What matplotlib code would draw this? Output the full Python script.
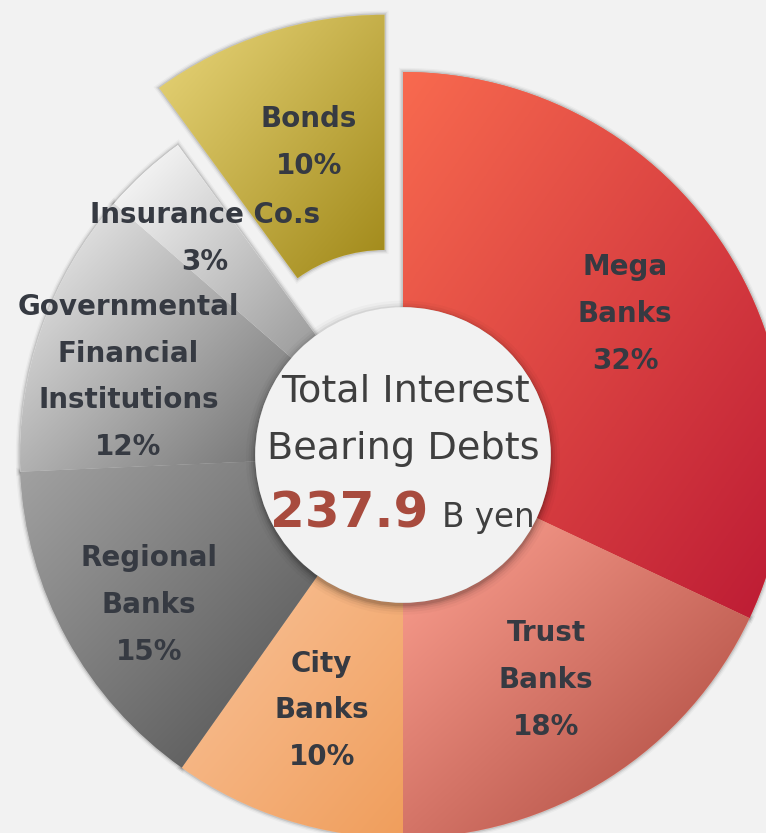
import numpy as np
import matplotlib
matplotlib.use("Agg")
import matplotlib.pyplot as plt
import matplotlib.patheffects as pe
from matplotlib.colors import LinearSegmentedColormap
from matplotlib.patches import Circle

# ---- data ----
categories = ["Mega\nBanks", "Trust\nBanks", "City\nBanks", "Regional\nBanks",
              "Governmental\nFinancial\nInstitutions", "Insurance Co.s", "Bonds"]
shares = [32.0, 18.0, 9.8, 14.5, 12.1, 3.6, 10.0]
pct_labels = ["32%", "18%", "10%", "15%", "12%", "3%", "10%"]
total_value = "237.9"
total_unit = "B yen"
title_line1 = "Total Interest"
title_line2 = "Bearing Debts"

# ---- styles ----
grad_start = ["#F86A4F", "#FFA393", "#F9C39A", "#A2A2A2", "#F4F4F4", "#FFFFFF", "#EAD77C"]
grad_end = ["#BC1A34", "#A8443A", "#F09E5C", "#505050", "#6E6E6E", "#9A9A9A", "#A08818"]
explode = [0, 0, 0, 0, 0, 0, 0.157]
label_r = [0.687, 0.697, 0.70, 0.77, 0.745, 0.767, 0.695]
label_dang = [0, 0, 0, 2.0, 3.4, 0, -1.5]
hole_r = 0.386
BG = "#F2F2F2"
TXT = "#363A42"

W, H = 766, 833
cx_px, cy_px, R_px = 403, 455, 383

fig = plt.figure(figsize=(W / 100, H / 100), dpi=100, facecolor=BG)
ax = fig.add_axes([0, 0, 1, 1])
ax.set_facecolor(BG)
ax.axis("off")

def px(x, y):
    return (x - cx_px) / R_px, (cy_px - y) / R_px

shadow_fx = [pe.Stroke(linewidth=6, foreground="k", alpha=0.03),
             pe.Stroke(linewidth=4, foreground="k", alpha=0.06),
             pe.Stroke(linewidth=2.2, foreground="k", alpha=0.10),
             pe.Normal()]

wedges, _ = ax.pie(shares, startangle=90, counterclock=False, radius=1.0,
                   explode=explode,
                   wedgeprops=dict(width=1 - hole_r, linewidth=0, edgecolor="none"),
                   colors=grad_start)

n = 300
gx, gy = np.meshgrid(np.linspace(0, 1, n), np.linspace(0, 1, n))
tgrid = (gx + gy) / 2.0
for i, w in enumerate(wedges):
    w.set_path_effects(shadow_fx)
    bb = w.get_path().get_extents()
    cmap = LinearSegmentedColormap.from_list(f"g{i}", [grad_start[i], grad_end[i]])
    im = ax.imshow(tgrid, extent=(bb.x0, bb.x1, bb.y0, bb.y1), origin="upper",
                   cmap=cmap, vmin=0, vmax=1, zorder=2, interpolation="bilinear")
    im.set_clip_path(w)

# hole with soft shadow
for dr, a in [(0.024, 0.025), (0.017, 0.04), (0.011, 0.06), (0.006, 0.08), (0.002, 0.10)]:
    ax.add_patch(Circle((0.0, -0.007), hole_r + dr, facecolor="k", edgecolor="none",
                        alpha=a, zorder=3))
ax.add_patch(Circle((0, 0), hole_r, facecolor=BG, edgecolor="none", zorder=4))

# slice labels
for i, w in enumerate(wedges):
    mid = np.deg2rad((w.theta1 + w.theta2) / 2 + label_dang[i])
    x = w.center[0] + label_r[i] * np.cos(mid)
    y = w.center[1] + label_r[i] * np.sin(mid)
    ax.text(x, y, categories[i] + "\n" + pct_labels[i], ha="center", va="center",
            fontsize=20, fontweight="bold", color=TXT, linespacing=1.86,
            family="DejaVu Sans", zorder=6)

# center text
ax.text(*px(405, 392), title_line1, ha="center", va="center", fontsize=27.5,
        color="#3F3F3F", zorder=6)
ax.text(*px(403, 449), title_line2, ha="center", va="center", fontsize=27.5,
        color="#3F3F3F", zorder=6)
ax.text(*px(428, 527), total_value, ha="right", va="baseline", fontsize=36,
        fontweight="bold", color="#A84B3E", zorder=6)
ax.text(*px(442, 527), total_unit, ha="left", va="baseline", fontsize=23.5,
        color="#3F3F3F", zorder=6)

ax.set_xlim(-cx_px / R_px, (W - cx_px) / R_px)
ax.set_ylim(-(H - cy_px) / R_px, cy_px / R_px)
ax.set_aspect("equal")

fig.savefig("out.png", dpi=100, facecolor=BG)
